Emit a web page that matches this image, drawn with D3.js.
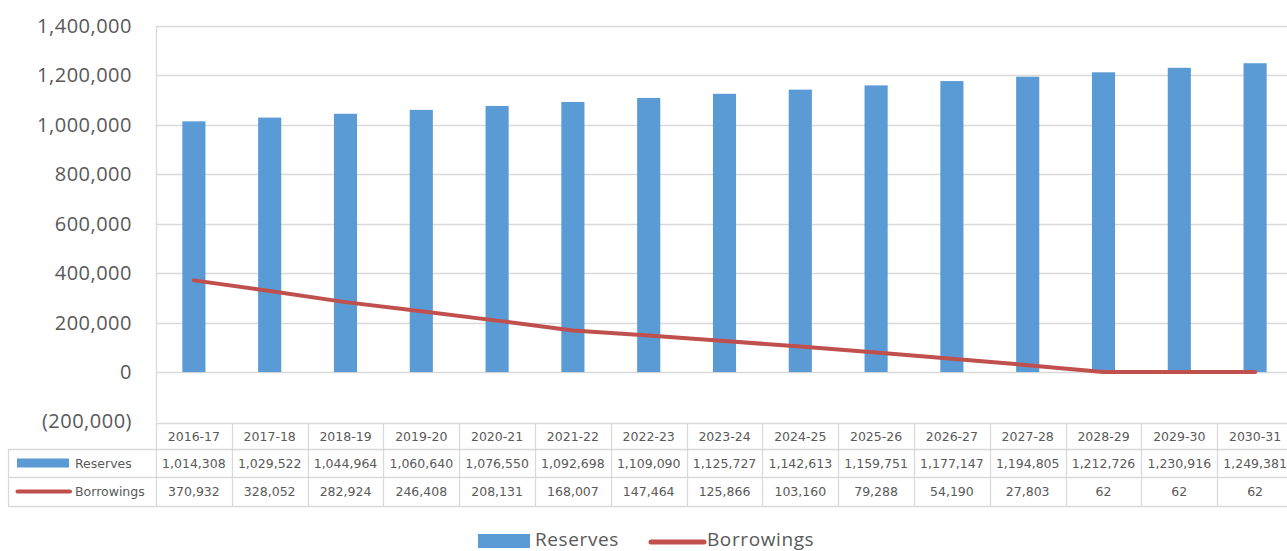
<!DOCTYPE html>
<html>
<head>
<meta charset="utf-8">
<script src="https://cdn.jsdelivr.net/npm/d3@7"></script>
<style>
  html, body { margin: 0; padding: 0; background: #ffffff; }
  svg { display: block; }
</style>
</head>
<body>
<svg id="chart" width="1287" height="551"></svg>
<script>
// Financial years
const categories = ["2016-17","2017-18","2018-19","2019-20","2020-21","2021-22","2022-23","2023-24",
  "2024-25","2025-26","2026-27","2027-28","2028-29","2029-30","2030-31"];
// Reserves (bars)
const reserves = [1014308,1029522,1044964,1060640,1076550,1092698,1109090,1125727,
  1142613,1159751,1177147,1194805,1212726,1230916,1249381];
// Borrowings (line)
const borrowings = [370932,328052,282924,246408,208131,168007,147464,125866,
  103160,79288,54190,27803,62,62,62];
// Y axis ticks
const yTicks = [-200000,0,200000,400000,600000,800000,1000000,1200000,1400000];

const seriesNames = ["Reserves", "Borrowings"];

const blue = "#5B9BD5";
const red = "#C0504D";
const textColor = "#595959";
const gridColor = "#d9d9d9";
const font = "'DejaVu Sans', Verdana, sans-serif";

const svg = d3.select("#chart");

const plotLeft = 156, colW = 75.8;
const plotTop = 26, plotBottom = 421.5;

const x = d3.scaleBand()
  .domain(categories)
  .range([plotLeft, plotLeft + colW * categories.length])
  .paddingInner(0).paddingOuter(0);

const y = d3.scaleLinear()
  .domain([-200000, 1400000])
  .range([plotBottom, plotTop]);

const fmt = d3.format(",");
const tickFmt = v => v < 0 ? "(" + fmt(-v) + ")" : fmt(v);

// Gridlines
svg.append("g")
  .selectAll("line")
  .data(yTicks.filter(t => t > -200000))
  .join("line")
  .attr("x1", plotLeft).attr("x2", 1287)
  .attr("y1", d => Math.round(y(d)) + 0.5).attr("y2", d => Math.round(y(d)) + 0.5)
  .attr("stroke", gridColor).attr("stroke-width", 1.3);

// Left axis line
svg.append("line")
  .attr("x1", plotLeft + 0.5).attr("x2", plotLeft + 0.5)
  .attr("y1", y(1400000)).attr("y2", plotBottom + 1)
  .attr("stroke", gridColor).attr("stroke-width", 1.3);

// Y axis labels
const yAxis = d3.axisLeft(y).tickValues(yTicks).tickFormat(tickFmt).tickSize(0).tickPadding(0);
const yg = svg.append("g").attr("transform", "translate(132,0)").call(yAxis);
yg.select(".domain").remove();
yg.selectAll("text")
  .attr("fill", textColor)
  .style("font-family", "'Open Sans', sans-serif")
  .style("font-size", "20px")
  .style("letter-spacing", "0.5px");

// Bars
const barW = x.bandwidth() * 0.305;
svg.append("g")
  .selectAll("rect")
  .data(categories)
  .join("rect")
  .attr("x", (d) => x(d) + x.bandwidth() / 2 - barW / 2)
  .attr("width", barW)
  .attr("y", (d, i) => y(reserves[i]))
  .attr("height", (d, i) => y(0) - y(reserves[i]))
  .attr("fill", blue);

// Borrowings line
const line = d3.line()
  .x((d, i) => x(categories[i]) + x.bandwidth() / 2)
  .y(d => y(d));
svg.append("path")
  .datum(borrowings)
  .attr("d", line)
  .attr("fill", "none")
  .attr("stroke", red)
  .attr("stroke-width", 4)
  .attr("stroke-linejoin", "round")
  .attr("stroke-linecap", "round");

// Data table
const tableTop = 423, rowH = [26, 28, 29];
const rowY = [tableTop, tableTop + rowH[0], tableTop + rowH[0] + rowH[1], tableTop + rowH[0] + rowH[1] + rowH[2]];
const tableLeft = 8;
const tableRight = x.range()[1];
const tg = svg.append("g");

// Horizontal rules
tg.append("line")
  .attr("x1", plotLeft).attr("x2", tableRight)
  .attr("y1", rowY[0] + 0.5).attr("y2", rowY[0] + 0.5)
  .attr("stroke", gridColor).attr("stroke-width", 1.3);
[1, 2, 3].forEach(r => {
  tg.append("line")
    .attr("x1", tableLeft).attr("x2", tableRight)
    .attr("y1", rowY[r] + 0.5).attr("y2", rowY[r] + 0.5)
    .attr("stroke", gridColor).attr("stroke-width", 1.3);
});
// Vertical rules
tg.append("line")
  .attr("x1", tableLeft + 0.5).attr("x2", tableLeft + 0.5)
  .attr("y1", rowY[1]).attr("y2", rowY[3])
  .attr("stroke", gridColor).attr("stroke-width", 1.3);
tg.selectAll("line.col")
  .data(categories.concat(["end"]))
  .join("line")
  .attr("class", "col")
  .attr("x1", (d, i) => Math.round(plotLeft + i * x.bandwidth()) + 0.5)
  .attr("x2", (d, i) => Math.round(plotLeft + i * x.bandwidth()) + 0.5)
  .attr("y1", rowY[0]).attr("y2", rowY[3])
  .attr("stroke", gridColor).attr("stroke-width", 1.3);

function cellText(values, row, formatter) {
  tg.append("g").selectAll("text")
    .data(values)
    .join("text")
    .attr("x", (d, i) => x(categories[i]) + x.bandwidth() / 2)
    .attr("y", (rowY[row] + rowY[row + 1]) / 2 + 1)
    .attr("text-anchor", "middle")
    .attr("dominant-baseline", "middle")
    .attr("fill", textColor)
    .style("font-family", font)
    .style("font-size", "12.5px")
    .text(formatter);
}
cellText(categories, 0, d => d);
cellText(reserves, 1, d => fmt(d));
cellText(borrowings, 2, d => fmt(d));

// Legend keys inside the table
const rMid1 = (rowY[1] + rowY[2]) / 2, rMid2 = (rowY[2] + rowY[3]) / 2;
tg.append("rect").attr("x", 17).attr("y", rMid1 - 4.5).attr("width", 52).attr("height", 9).attr("fill", blue);
tg.append("line").attr("x1", 17.5).attr("x2", 70).attr("y1", rMid2).attr("y2", rMid2)
  .attr("stroke", red).attr("stroke-width", 4).attr("stroke-linecap", "round");
[rMid1, rMid2].forEach((yy, i) => {
  tg.append("text")
    .attr("x", 75).attr("y", yy + 1)
    .attr("dominant-baseline", "middle")
    .attr("fill", textColor)
    .style("font-family", font)
    .style("font-size", "12.5px")
    .text(seriesNames[i]);
});

// Bottom legend
const lg = svg.append("g");
lg.append("rect").attr("x", 478).attr("y", 534).attr("width", 52).attr("height", 14).attr("fill", blue);
lg.append("text").attr("x", 535).attr("y", 546)
  .attr("fill", textColor).style("font-family", "'Open Sans', sans-serif").style("font-size", "19px")
  .style("letter-spacing", "0.6px")
  .text(seriesNames[0]);
lg.append("line").attr("x1", 651).attr("x2", 704).attr("y1", 542).attr("y2", 542)
  .attr("stroke", red).attr("stroke-width", 5).attr("stroke-linecap", "round");
lg.append("text").attr("x", 707).attr("y", 546)
  .attr("fill", textColor).style("font-family", "'Open Sans', sans-serif").style("font-size", "19px")
  .style("letter-spacing", "0.6px")
  .text(seriesNames[1]);
</script>
</body>
</html>
